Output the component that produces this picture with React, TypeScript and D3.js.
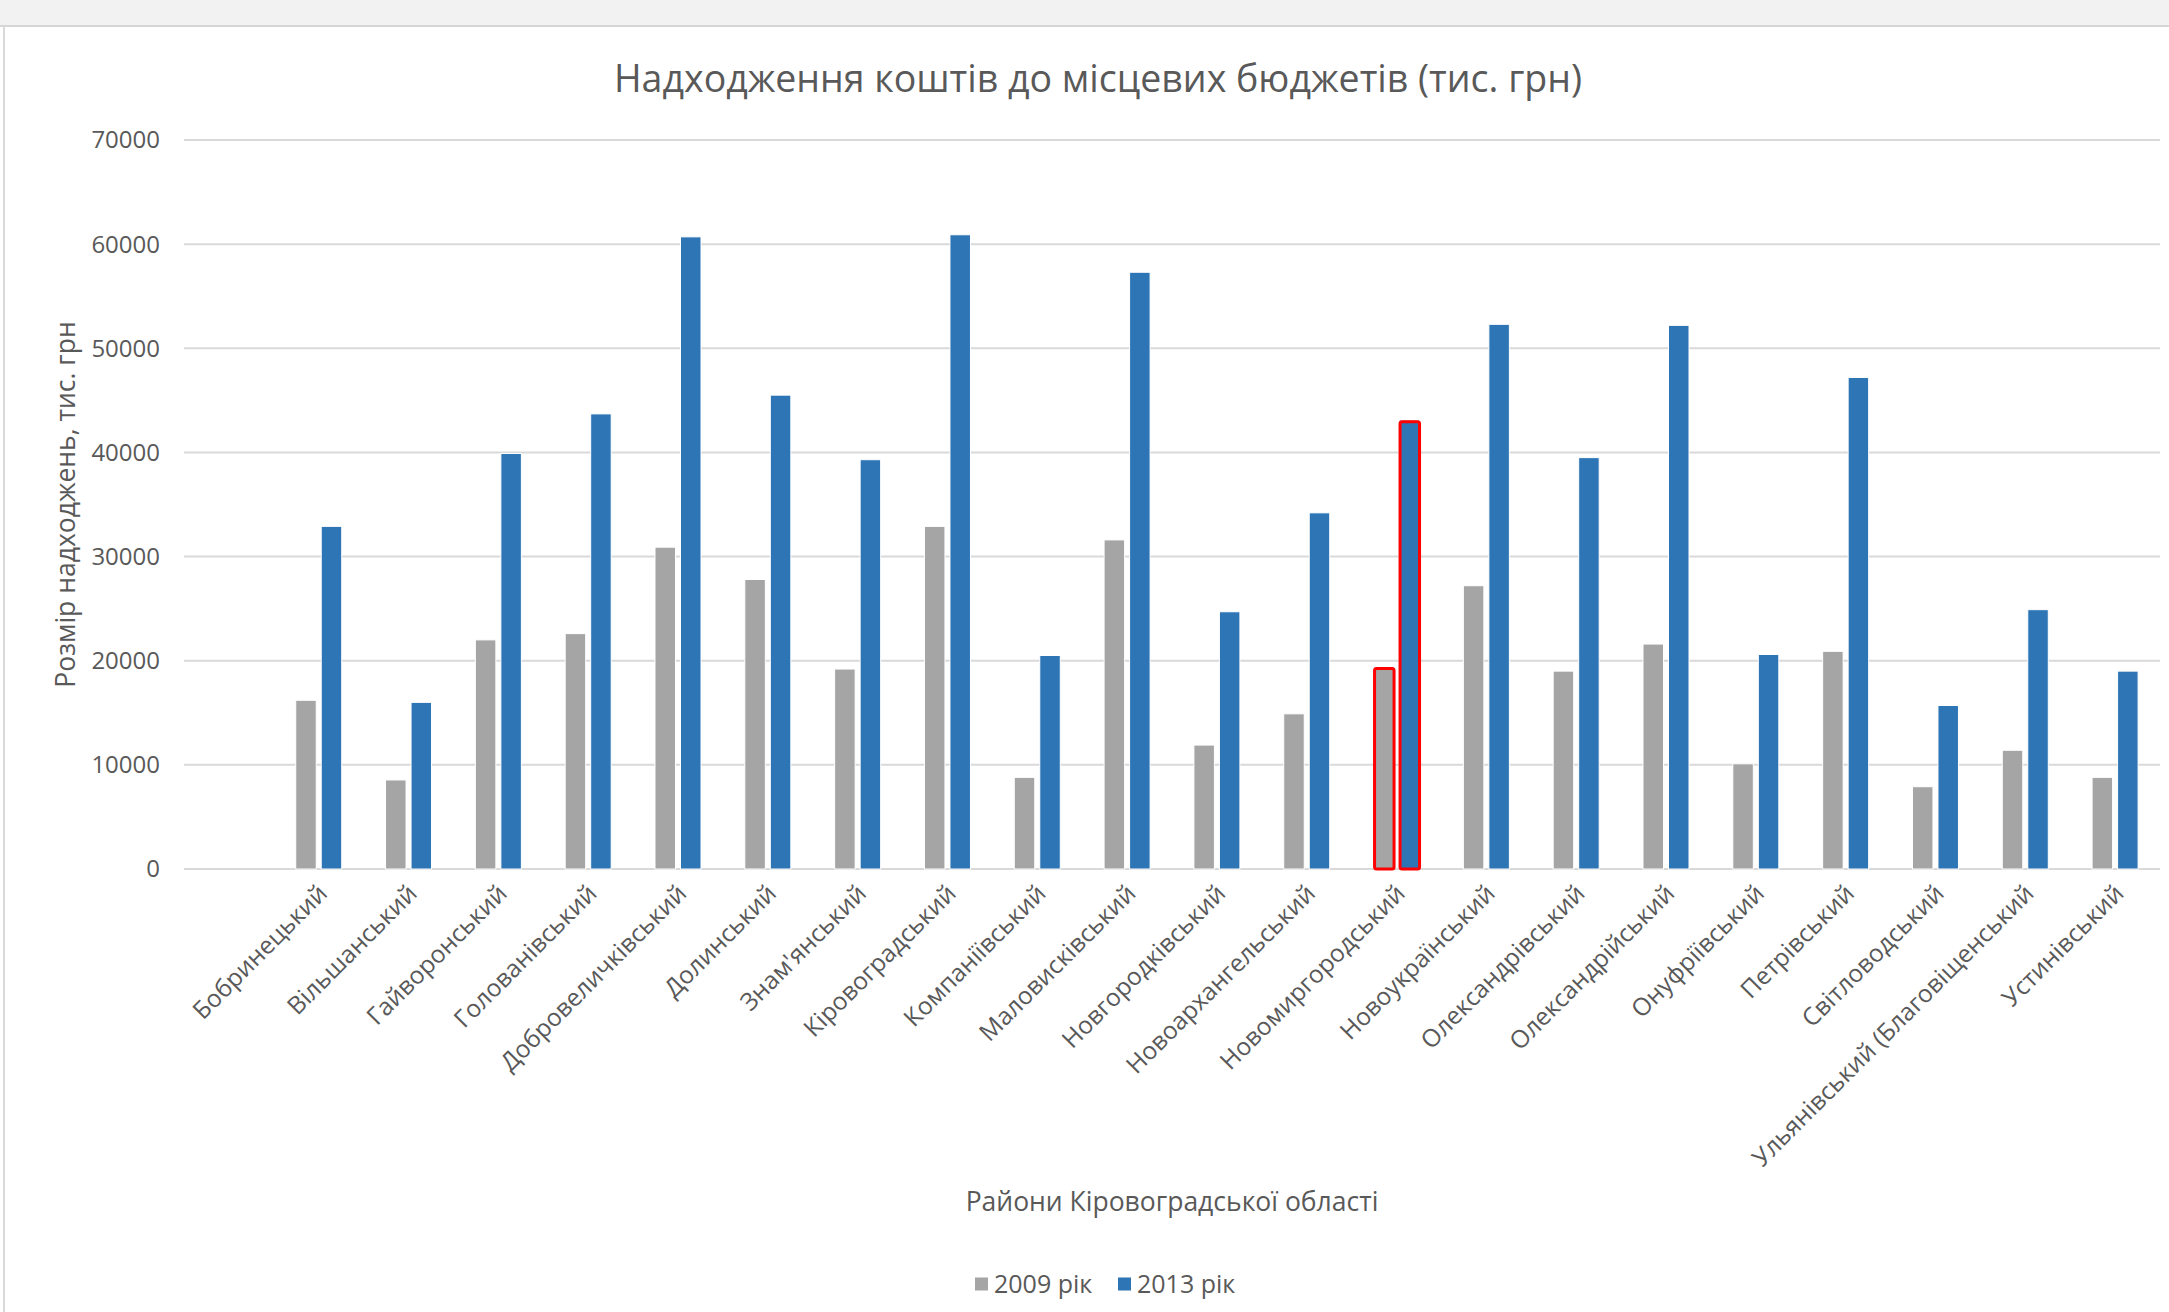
import * as d3 from 'd3';

const W = 2169;
const H = 1312;
const FONT = '"Open Sans", "Noto Sans", sans-serif';
const TEXT = '#595959';

// first slot on the axis is an empty category, as in the source sheet
const categories = [
  '',
  'Бобринецький',
  'Вільшанський',
  'Гайворонський',
  'Голованівський',
  'Добровеличківський',
  'Долинський',
  "Знам'янський",
  'Кіровоградський',
  'Компаніївський',
  'Маловисківський',
  'Новгородківський',
  'Новоархангельський',
  'Новомиргородський',
  'Новоукраїнський',
  'Олександрівський',
  'Олександрійський',
  'Онуфріївський',
  'Петрівський',
  'Світловодський',
  'Ульянівський (Благовіщенський',
  'Устинівський',
];

const values2009 = [
  null, 16200, 8550, 22000, 22600, 30900, 27800, 19200, 32900, 8800, 31600,
  11900, 14900, 19400, 27200, 19000, 21600, 10100, 20900, 7900, 11400, 8800,
];

const values2013 = [
  null, 32900, 16000, 39900, 43700, 60700, 45500, 39300, 60900, 20500, 57300,
  24700, 34200, 43100, 52300, 39500, 52200, 20600, 47200, 15700, 24900, 19000,
];

const yTicks = [0, 10000, 20000, 30000, 40000, 50000, 60000, 70000];

const series = [
  { name: '2009 рік', values: values2009, color: '#a5a5a5' },
  { name: '2013 рік', values: values2013, color: '#2e75b6' },
];

const highlighted = 'Новомиргородський';

const PLOT = { left: 184, right: 2160, top: 140, bottom: 869 };

export default function App() {
  const x = d3
    .scaleBand<string>()
    .domain(categories.map((c, i) => `${i}`))
    .range([PLOT.left, PLOT.right])
    .paddingInner(0)
    .paddingOuter(0);

  const y = d3.scaleLinear().domain([0, 70000]).range([PLOT.bottom, PLOT.top]);

  const barW = 20.5;
  const gap = 5;
  const offsets = [-(barW + gap / 2), gap / 2];

  const center = (i: number) => (x(`${i}`) || 0) + x.bandwidth() / 2;

  return (
    <svg
      width={W}
      height={H}
      style={{ position: 'absolute', left: 0, top: 0, fontFamily: FONT }}
    >
      <rect x={0} y={0} width={W} height={H} fill="#ffffff" />
      <rect x={0} y={0} width={W} height={25} fill="#f2f2f2" />
      <line x1={0} x2={W} y1={26} y2={26} stroke="#d6d6d6" strokeWidth={2} />
      <line x1={4} x2={4} y1={26} y2={H} stroke="#d9d9d9" strokeWidth={2} />

      <text x={1098} y={92} textAnchor="middle" fontSize={37.5} fill={TEXT}>
        Надходження коштів до місцевих бюджетів (тис. грн)
      </text>

      {/* gridlines + y ticks */}
      {yTicks.map((t) => (
        <g key={t}>
          <line
            x1={PLOT.left}
            x2={PLOT.right}
            y1={y(t)}
            y2={y(t)}
            stroke="#d9d9d9"
            strokeWidth={2}
          />
          <text
            x={160}
            y={y(t)}
            dy="0.35em"
            textAnchor="end"
            fontSize={24}
            fill={TEXT}
          >
            {t}
          </text>
        </g>
      ))}

      {/* bars */}
      {series.map((s, si) => (
        <g key={s.name}>
          {s.values.map((v, i) =>
            v == null ? null : (
              <rect
                key={i}
                x={center(i) + offsets[si]}
                y={y(v)}
                width={barW}
                height={y(0) - y(v)}
                fill={s.color}
                stroke="#ffffff"
                strokeWidth={1}
              />
            )
          )}
        </g>
      ))}

      {/* red outline on the highlighted district */}
      {series.map((s, si) => {
        const i = categories.indexOf(highlighted);
        const v = s.values[i] as number;
        return (
          <rect
            key={s.name}
            x={center(i) + offsets[si] + 1}
            y={y(v) + 1.5}
            width={barW - 1}
            height={y(0) - y(v) - 1.5}
            fill="none"
            stroke="#ff0000"
            strokeWidth={3}
            rx={2}
          />
        );
      })}

      {/* category labels */}
      {categories.map((c, i) =>
        c ? (
          <text
            key={i}
            transform={`translate(${center(i) + 4},${PLOT.bottom + 20}) rotate(-45)`}
            dy="0.35em"
            textAnchor="end"
            fontSize={24.5}
            fill={TEXT}
          >
            {c}
          </text>
        ) : null
      )}

      {/* axis titles */}
      <text
        transform={`translate(66,${(PLOT.top + PLOT.bottom) / 2}) rotate(-90)`}
        dy="0.35em"
        textAnchor="middle"
        fontSize={26.5}
        fill={TEXT}
      >
        Розмір надходжень, тис. грн
      </text>
      <text
        x={(PLOT.left + PLOT.right) / 2}
        y={1202}
        dy="0.35em"
        textAnchor="middle"
        fontSize={26.5}
        fill={TEXT}
      >
        Райони Кіровоградської області
      </text>

      {/* legend */}
      {series.map((s, si) => {
        const lx = [975, 1118][si];
        return (
          <g key={s.name} transform={`translate(${lx},1284)`}>
            <rect x={0} y={-6.5} width={13} height={13} fill={s.color} />
            <text x={19} dy="0.35em" fontSize={25} fill={TEXT}>
              {s.name}
            </text>
          </g>
        );
      })}
    </svg>
  );
}
